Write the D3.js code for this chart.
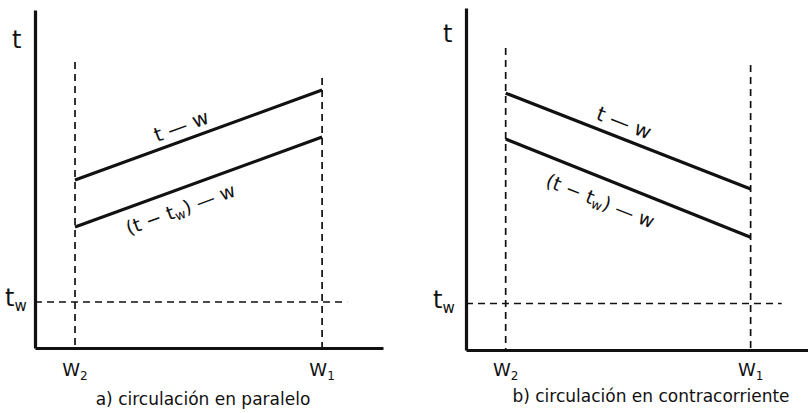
<!DOCTYPE html>
<html>
<head>
<meta charset="utf-8">
<script src="https://cdn.jsdelivr.net/npm/d3@7/dist/d3.min.js"></script>
<style>
  html, body { margin: 0; padding: 0; background: #fff; }
  svg { display: block; }
  text { font-family: "DejaVu Sans", sans-serif; fill: #111; }
</style>
</head>
<body>
<svg id="chart" width="808" height="413"></svg>
<script>
// Flow positions along the exchanger (W2 = inlet side, W1 = outlet side)
const wNames = ["W", "W"];
const wSubs = ["2", "1"];
const wValues = [1.15, 8.25];

// Temperature of the wet-bulb reference line
const twValue = 1.36;

// a) parallel flow: t and (t - tw) at W2 and W1
const parallelT = [4.97, 7.63];
const parallelDiff = [3.58, 6.24];

// b) counter-flow: t and (t - tw) at W2 and W1
const counterT = [7.51, 4.71];
const counterDiff = [6.17, 3.30];

// Top ends of the dashed W guides, and right end of the tw guide
const parallelGuideTops = [8.46, 7.99];
const counterGuideTops = [8.83, 8.33];
const twGuideEnd = [8.97, 9.15];

const captions = ["a) circulación en paralelo", "b) circulación en contracorriente"];

const svg = d3.select("#chart");

const panels = [
  { x0: 35, x1: 383, y0: 348, y1: 10, t: parallelT, d: parallelDiff, tops: parallelGuideTops,
    twEnd: twGuideEnd[0], caption: captions[0], capX: 203, capY: 405,
    tLab: [12, 48], twLab: [5, 306], lblUp: [0.45, -13], lblLow: [0.40, 20] },
  { x0: 466, x1: 811, y0: 350, y1: 8, t: counterT, d: counterDiff, tops: counterGuideTops,
    twEnd: twGuideEnd[1], caption: captions[1], capX: 651, capY: 402,
    tLab: [443, 42], twLab: [433, 308], lblUp: [0.46, -14], lblLow: [0.42, 23] }
];

panels.forEach((p, i) => {
  const x = d3.scaleLinear().domain([0, 10]).range([p.x0, p.x1]);
  const y = d3.scaleLinear().domain([0, 10]).range([p.y0, p.y1]);
  const g = svg.append("g");

  // dashed guides at W2 and W1
  g.selectAll(".wguide").data(wValues).join("line")
    .attr("x1", d => x(d)).attr("x2", d => x(d))
    .attr("y1", (d, k) => y(p.tops[k])).attr("y2", y(0))
    .attr("stroke", "#111").attr("stroke-width", 1.7)
    .attr("stroke-dasharray", "7,5");

  // dashed tw guide
  g.append("line")
    .attr("x1", x(0)).attr("x2", x(p.twEnd))
    .attr("y1", y(twValue)).attr("y2", y(twValue))
    .attr("stroke", "#111").attr("stroke-width", 1.5)
    .attr("stroke-dasharray", "7,5");

  // axes (no ticks, just the two strokes)
  const xAxis = d3.axisBottom(x).tickValues([]).tickSizeOuter(0);
  const yAxis = d3.axisLeft(y).tickValues([]).tickSizeOuter(0);
  g.append("g").attr("transform", `translate(0,${y(0)})`).call(xAxis)
    .select(".domain").attr("stroke", "#111").attr("stroke-width", 3);
  g.append("g").attr("transform", `translate(${x(0)},0)`).call(yAxis)
    .select(".domain").attr("stroke", "#111").attr("stroke-width", 3.2);

  // the two temperature lines
  const line = d3.line().x((d, k) => x(wValues[k])).y(d => y(d));
  [p.t, p.d].forEach(series => {
    g.append("path").datum(series)
      .attr("d", line)
      .attr("fill", "none").attr("stroke", "#111").attr("stroke-width", 3.2)
      .attr("stroke-linecap", "butt");
  });

  // labels riding along the lines
  function along(series, frac, offset) {
    const ax = x(wValues[0]), ay = y(series[0]);
    const bx = x(wValues[1]), by = y(series[1]);
    const ang = Math.atan2(by - ay, bx - ax);
    const px = ax + (bx - ax) * frac, py = ay + (by - ay) * frac;
    const nx = -Math.sin(ang), ny = Math.cos(ang);
    return { x: px + nx * offset, y: py + ny * offset, deg: ang * 180 / Math.PI };
  }

  const up = along(p.t, p.lblUp[0], p.lblUp[1]);
  g.append("text")
    .attr("transform", `translate(${up.x},${up.y}) rotate(${up.deg})`)
    .attr("text-anchor", "middle").attr("dominant-baseline", "middle")
    .attr("font-size", 20)
    .text("t  —  w");

  const low = along(p.d, p.lblLow[0], p.lblLow[1]);
  const lt = g.append("text")
    .attr("transform", `translate(${low.x},${low.y}) rotate(${low.deg})`)
    .attr("text-anchor", "middle").attr("dominant-baseline", "middle")
    .attr("font-size", 19);
  lt.append("tspan").text("(t − t");
  lt.append("tspan").attr("font-size", 13).attr("dy", 5).text("w");
  lt.append("tspan").attr("dy", -5).text(")  —  w");

  // axis names
  g.append("text").attr("x", p.tLab[0]).attr("y", p.tLab[1])
    .attr("font-size", 24).text("t");
  const tw = g.append("text").attr("x", p.twLab[0]).attr("y", p.twLab[1])
    .attr("font-size", 24);
  tw.append("tspan").text("t");
  tw.append("tspan").attr("font-size", 15).attr("dy", 5).text("w");

  // W2 / W1 labels under the axis
  const wl = g.selectAll(".wlab").data(wValues).join("text")
    .attr("x", d => x(d)).attr("y", 376)
    .attr("text-anchor", "middle").attr("font-size", 18);
  wl.append("tspan").text((d, k) => wNames[k]);
  wl.append("tspan").attr("font-size", 12).attr("dy", 4).text((d, k) => wSubs[k]);

  // caption
  g.append("text").attr("x", p.capX).attr("y", p.capY)
    .attr("text-anchor", "middle").attr("font-size", 17)
    .text(p.caption);
});
</script>
</body>
</html>
